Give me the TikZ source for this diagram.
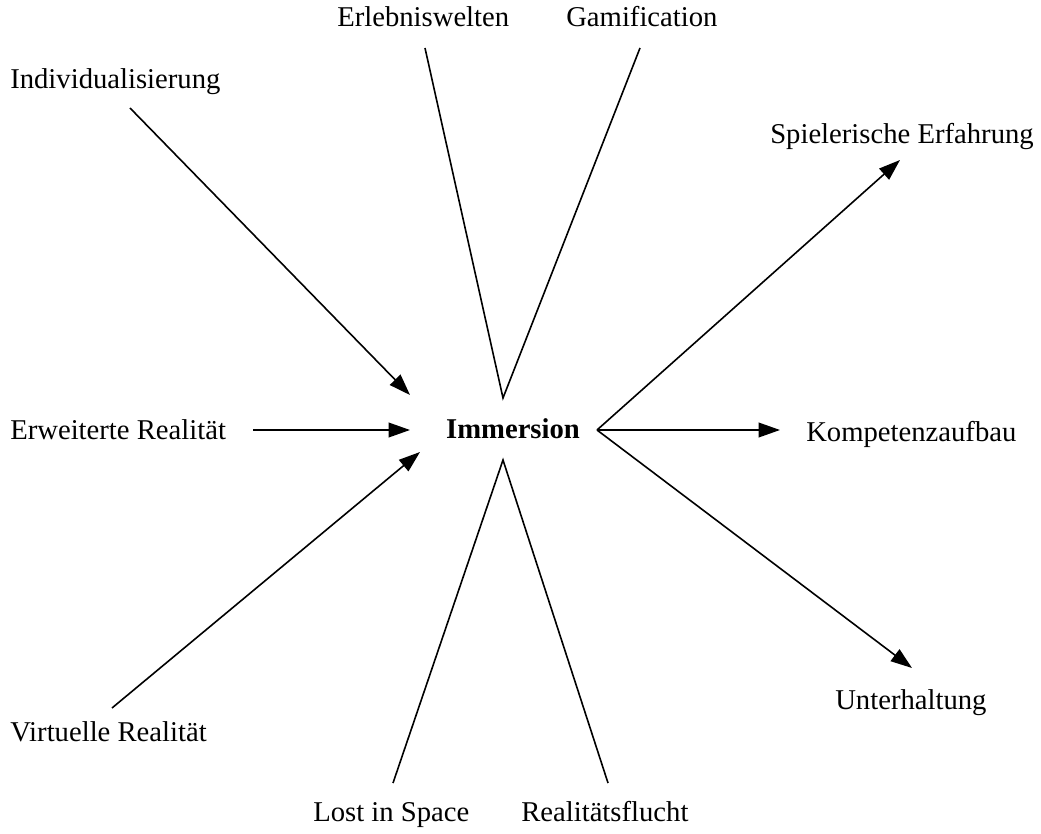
\documentclass[tikz,border=0pt]{standalone}
\usepackage{fontspec}
\setmainfont{Liberation Serif}
\usetikzlibrary{arrows.meta, positioning}

\begin{document}
\begin{tikzpicture}[x=0.75pt, y=-0.75pt,
    every node/.style={font=\fontsize{21.5}{26}\selectfont, inner sep=0pt},
    lbl/.style={anchor=base west},
    link/.style={line width=1.2pt},
    arr/.style={link, -{Triangle[length=16pt, width=11pt]}}]
    \useasboundingbox (0,0) rectangle (1041,834);

    % center
    \node[anchor=base, font=\fontsize{21.5}{26}\selectfont\bfseries] (imm) at (513,438) {Immersion};

    % labels
    \node[lbl] (indiv) at (10,89) {Individualisierung};
    \node[lbl] (erleb) at (337,27) {Erlebniswelten};
    \node[lbl] (gami) at (566,27) {Gamification};
    \node[lbl] (spiel) at (770,144) {Spielerische Erfahrung};
    \node[lbl] (erw) at (10,439) {Erweiterte Realität};
    \node[lbl] (komp) at (806,441) {Kompetenzaufbau};
    \node[lbl] (virt) at (10,741) {Virtuelle Realität};
    \node[lbl] (unter) at (835,709) {Unterhaltung};
    \node[lbl] (lost) at (313,821) {Lost in Space};
    \node[lbl] (flucht) at (521,821) {Realitätsflucht};

    % free ends
    \coordinate (indivS) at (130,108);
    \coordinate (indivE) at (410,395);
    \coordinate (erlebS) at (425,48);
    \coordinate (gamiS) at (640,48);
    \coordinate (top) at (503,398);
    \coordinate (erwS) at (253,430);
    \coordinate (erwE) at (410,430);
    \coordinate (virtS) at (112,708);
    \coordinate (virtE) at (420,452);
    \coordinate (lostS) at (393,783);
    \coordinate (fluchtS) at (608,783);
    \coordinate (bot) at (503,460);
    \coordinate (right) at (597,430);
    \coordinate (spielE) at (900,160);
    \coordinate (kompE) at (780,430);
    \coordinate (unterE) at (912,668);

    \draw[arr] (indivS) -- (indivE);
    \draw[arr] (erwS) -- (erwE);
    \draw[arr] (virtS) -- (virtE);
    \draw[link] (erlebS) -- (top) -- (gamiS);
    \draw[link] (lostS) -- (bot) -- (fluchtS);
    \draw[arr] (right) -- (spielE);
    \draw[arr] (right) -- (kompE);
    \draw[arr] (right) -- (unterE);
\end{tikzpicture}
\end{document}
